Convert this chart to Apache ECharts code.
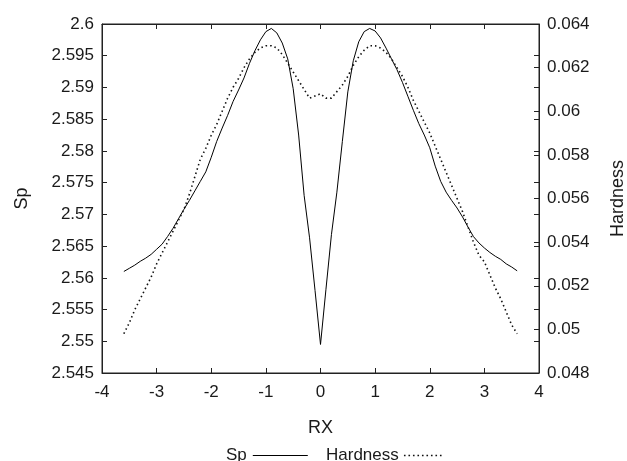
<!DOCTYPE html>
<html>
<head>
<meta charset="utf-8">
<script src="https://cdn.jsdelivr.net/npm/echarts@6/dist/echarts.min.js"></script>
<style>html,body{margin:0;padding:0;background:#fff}#c{width:627px;height:461px}</style>
</head>
<body>
<div id="c"></div>
<script>
// x positions (RX)
var rx = [-3.6,-3.5,-3.4,-3.3,-3.2,-3.1,-3.0,-2.9,-2.8,-2.7,-2.6,-2.5,-2.4,-2.3,-2.2,-2.1,-2.0,-1.9,-1.8,-1.7,-1.6,-1.5,-1.4,-1.3,-1.2,-1.1,-1.0,-0.9,-0.8,-0.7,-0.6,-0.5,-0.4,-0.3,-0.2,-0.1,0,
          0.1,0.2,0.3,0.4,0.5,0.6,0.7,0.8,0.9,1.0,1.1,1.2,1.3,1.4,1.5,1.6,1.7,1.8,1.9,2.0,2.1,2.2,2.3,2.4,2.5,2.6,2.7,2.8,2.9,3.0,3.1,3.2,3.3,3.4,3.5,3.6];
// Sp values (left axis)
var sp = [2.5610,2.5615,2.5620,2.5626,2.5631,2.5637,2.5645,2.5653,2.5665,2.5678,2.5693,2.5708,2.5722,2.5737,2.5752,2.5767,2.5790,2.5815,2.5836,2.5856,2.5878,2.5896,2.5915,2.5938,2.5958,2.5975,2.5988,2.5993,2.5986,2.5970,2.5945,2.5898,2.5825,2.5730,2.5663,2.5580,2.5495,
          2.5582,2.5668,2.5735,2.5815,2.5893,2.5942,2.5972,2.5988,2.5993,2.5989,2.5978,2.5962,2.5945,2.5928,2.5908,2.5886,2.5864,2.5843,2.5825,2.5805,2.5776,2.5752,2.5735,2.5722,2.5710,2.5696,2.5680,2.5665,2.5655,2.5647,2.5640,2.5634,2.5629,2.5622,2.5617,2.5611];
// Hardness values (right axis)
var hardness = [0.0498,0.0503,0.0509,0.0514,0.0519,0.0524,0.0530,0.0535,0.0540,0.0545,0.0550,0.0555,0.0562,0.0570,0.0578,0.0583,0.0589,0.0594,0.0600,0.0606,0.0611,0.0615,0.0620,0.0624,0.0627,0.0629,0.0630,0.0630,0.0629,0.0626,0.0622,0.0618,0.0614,0.0610,0.0606,0.0607,0.0608,
          0.0606,0.0606,0.0609,0.0612,0.0616,0.0621,0.0625,0.0628,0.0630,0.0630,0.0629,0.0627,0.0624,0.0620,0.0616,0.0611,0.0605,0.0600,0.0595,0.0590,0.0584,0.0578,0.0572,0.0566,0.0560,0.0554,0.0547,0.0540,0.0534,0.0531,0.0525,0.0519,0.0514,0.0508,0.0502,0.0498];
var seriesNames = ['Sp', 'Hardness'];
var xTicks = {min: -4, max: 4, step: 1};
var spTicks = {min: 2.545, max: 2.6, step: 0.005};
var hardTicks = {min: 0.048, max: 0.064, step: 0.002};

function pairs(xs, ys){ return xs.map(function(x,i){ return [x, ys[i]]; }); }
function fmt(v){ return parseFloat(Number(v).toFixed(4)).toString(); }

var FONT = 'Liberation Sans, Arial, Helvetica, sans-serif';
var TXT = '#1a1a1a';
var lineCol = '#222';

// legend sample icons
var solidIcon = 'rect';
var dotPath = 'path://';
for (var k = 0; k < 9; k++) { dotPath += 'M' + (k * 4.5) + ',0h1.6v1.6h-1.6z'; }

var chart = echarts.init(document.getElementById('c'), null, {renderer: 'canvas'});
var tickStyle = {show: true, inside: true, length: 5, lineStyle: {color: lineCol, width: 1}};
chart.setOption({
  animation: false,
  backgroundColor: '#fff',
  grid: {left: 102, right: 88, top: 24, bottom: 88, containLabel: false, outerBoundsMode: 'none',
         show: true, borderColor: lineCol, borderWidth: 1, backgroundColor: 'transparent'},
  legend: [
    {data: [{name: seriesNames[0], icon: solidIcon}], left: 221, top: 442, align: 'right', itemWidth: 55, itemHeight: 1, itemGap: 0,
     itemStyle: {color: '#000', borderWidth: 0},
     textStyle: {fontFamily: FONT, fontSize: 17, color: TXT, padding: [0, 1, 0, 0]}},
    {data: [{name: seriesNames[1], icon: dotPath}], left: 321, top: 442, align: 'right', itemWidth: 38, itemHeight: 1.6, itemGap: 0,
     itemStyle: {color: '#111', borderWidth: 0},
     textStyle: {fontFamily: FONT, fontSize: 17, color: TXT}}
  ],
  xAxis: [
    {type: 'value', min: xTicks.min, max: xTicks.max, interval: xTicks.step, position: 'bottom',
     axisLine: {show: true, onZero: false, lineStyle: {color: lineCol}}, axisTick: tickStyle,
     splitLine: {show: false},
     axisLabel: {margin: 11, fontFamily: FONT, fontSize: 17, color: TXT, formatter: fmt},
     name: 'RX', nameLocation: 'middle', nameGap: 46, nameTextStyle: {fontFamily: FONT, fontSize: 18, color: TXT}},
    {type: 'value', min: xTicks.min, max: xTicks.max, interval: xTicks.step, position: 'top',
     axisLine: {show: true, onZero: false, lineStyle: {color: lineCol}}, axisTick: tickStyle,
     splitLine: {show: false}, axisLabel: {show: false}}
  ],
  yAxis: [
    {type: 'value', min: spTicks.min, max: spTicks.max, interval: spTicks.step, position: 'left',
     axisLine: {show: true, onZero: false, lineStyle: {color: lineCol}}, axisTick: tickStyle,
     splitLine: {show: false},
     axisLabel: {margin: 8, fontFamily: FONT, fontSize: 17, color: TXT, formatter: fmt},
     name: 'Sp', nameLocation: 'middle', nameGap: 71, nameRotate: 90,
     nameTextStyle: {fontFamily: FONT, fontSize: 18, color: TXT}},
    {type: 'value', min: hardTicks.min, max: hardTicks.max, interval: hardTicks.step, position: 'right',
     axisLine: {show: true, onZero: false, lineStyle: {color: lineCol}}, axisTick: tickStyle,
     splitLine: {show: false},
     axisLabel: {margin: 8, fontFamily: FONT, fontSize: 17, color: TXT, formatter: fmt},
     name: 'Hardness', nameLocation: 'middle', nameGap: 70, nameRotate: 90,
     nameTextStyle: {fontFamily: FONT, fontSize: 18, color: TXT}},
    {type: 'value', min: spTicks.min, max: spTicks.max, interval: spTicks.step, position: 'right',
     axisLine: {show: false, onZero: false}, axisTick: tickStyle, splitLine: {show: false}, axisLabel: {show: false}}
  ],
  series: [
    {name: seriesNames[0], type: 'line', xAxisIndex: 0, yAxisIndex: 0, data: pairs(rx, sp),
     showSymbol: false, symbol: 'none', smooth: false,
     lineStyle: {color: '#000', width: 1}, itemStyle: {color: '#000'}},
    {name: seriesNames[1], type: 'line', xAxisIndex: 0, yAxisIndex: 1, data: pairs(rx, hardness),
     showSymbol: false, symbol: 'none', smooth: false,
     lineStyle: {color: '#111', width: 1.6, type: [1.5, 3]}, itemStyle: {color: '#111'}}
  ]
});
</script>
</body>
</html>
